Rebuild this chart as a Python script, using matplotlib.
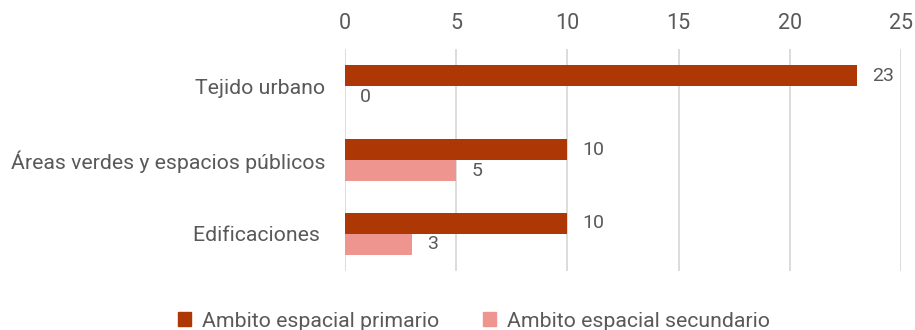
import matplotlib.pyplot as plt
import numpy as np
from matplotlib.patches import Patch

plt.rcParams["font.family"] = ["Roboto", "DejaVu Sans"]

categories = ["Tejido urbano", "Áreas verdes y espacios públicos", "Edificaciones "]
primario = [23, 10, 10]
secundario = [0, 5, 3]
series_names = ["Ambito espacial primario", "Ambito espacial secundario"]

col_prim = "#ad3805"
col_sec = "#ee9590"
txt = "#595959"

fig = plt.figure(figsize=(9.15, 3.3), dpi=100)
ax = fig.add_axes([0.377, 0.179, 0.608, 0.672])

y = np.arange(len(categories))
h = 0.284
ax.barh(y - h / 2, primario, height=h, color=col_prim, zorder=3)
ax.barh(y + h / 2, secundario, height=h, color=col_sec, zorder=3)

for yi, v in zip(y, primario):
    ax.annotate(str(v), (v, yi - h / 2), xytext=(11, 0), textcoords="offset points",
                ha="left", va="center", fontsize=14, color=txt)
for yi, v in zip(y, secundario):
    ax.annotate(str(v), (v, yi + h / 2), xytext=(11, 0), textcoords="offset points",
                ha="left", va="center", fontsize=14, color=txt)

ax.set_xlim(0, 25)
ax.set_ylim(len(categories) - 0.5, -0.5)
ax.set_xticks(range(0, 26, 5))
ax.set_yticks(y)
ax.set_yticklabels(categories)
ax.xaxis.tick_top()
ax.tick_params(axis="x", length=0, pad=11, labelsize=15.5, labelcolor=txt)
ax.tick_params(axis="y", length=0, pad=14, labelsize=15.3, labelcolor=txt)
ax.grid(axis="x", color="#d9d9d9", linewidth=1.3, zorder=0)
for s in ax.spines.values():
    s.set_visible(False)

handles = [Patch(color=col_prim), Patch(color=col_sec)]
fig.legend(handles, series_names, loc="lower center", bbox_to_anchor=(0.518, -0.06),
           ncol=2, frameon=False, fontsize=15.3, labelcolor=txt,
           handlelength=0.6, handleheight=0.6, handletextpad=0.5, columnspacing=2.1)

fig.savefig("out.png", dpi=100)
